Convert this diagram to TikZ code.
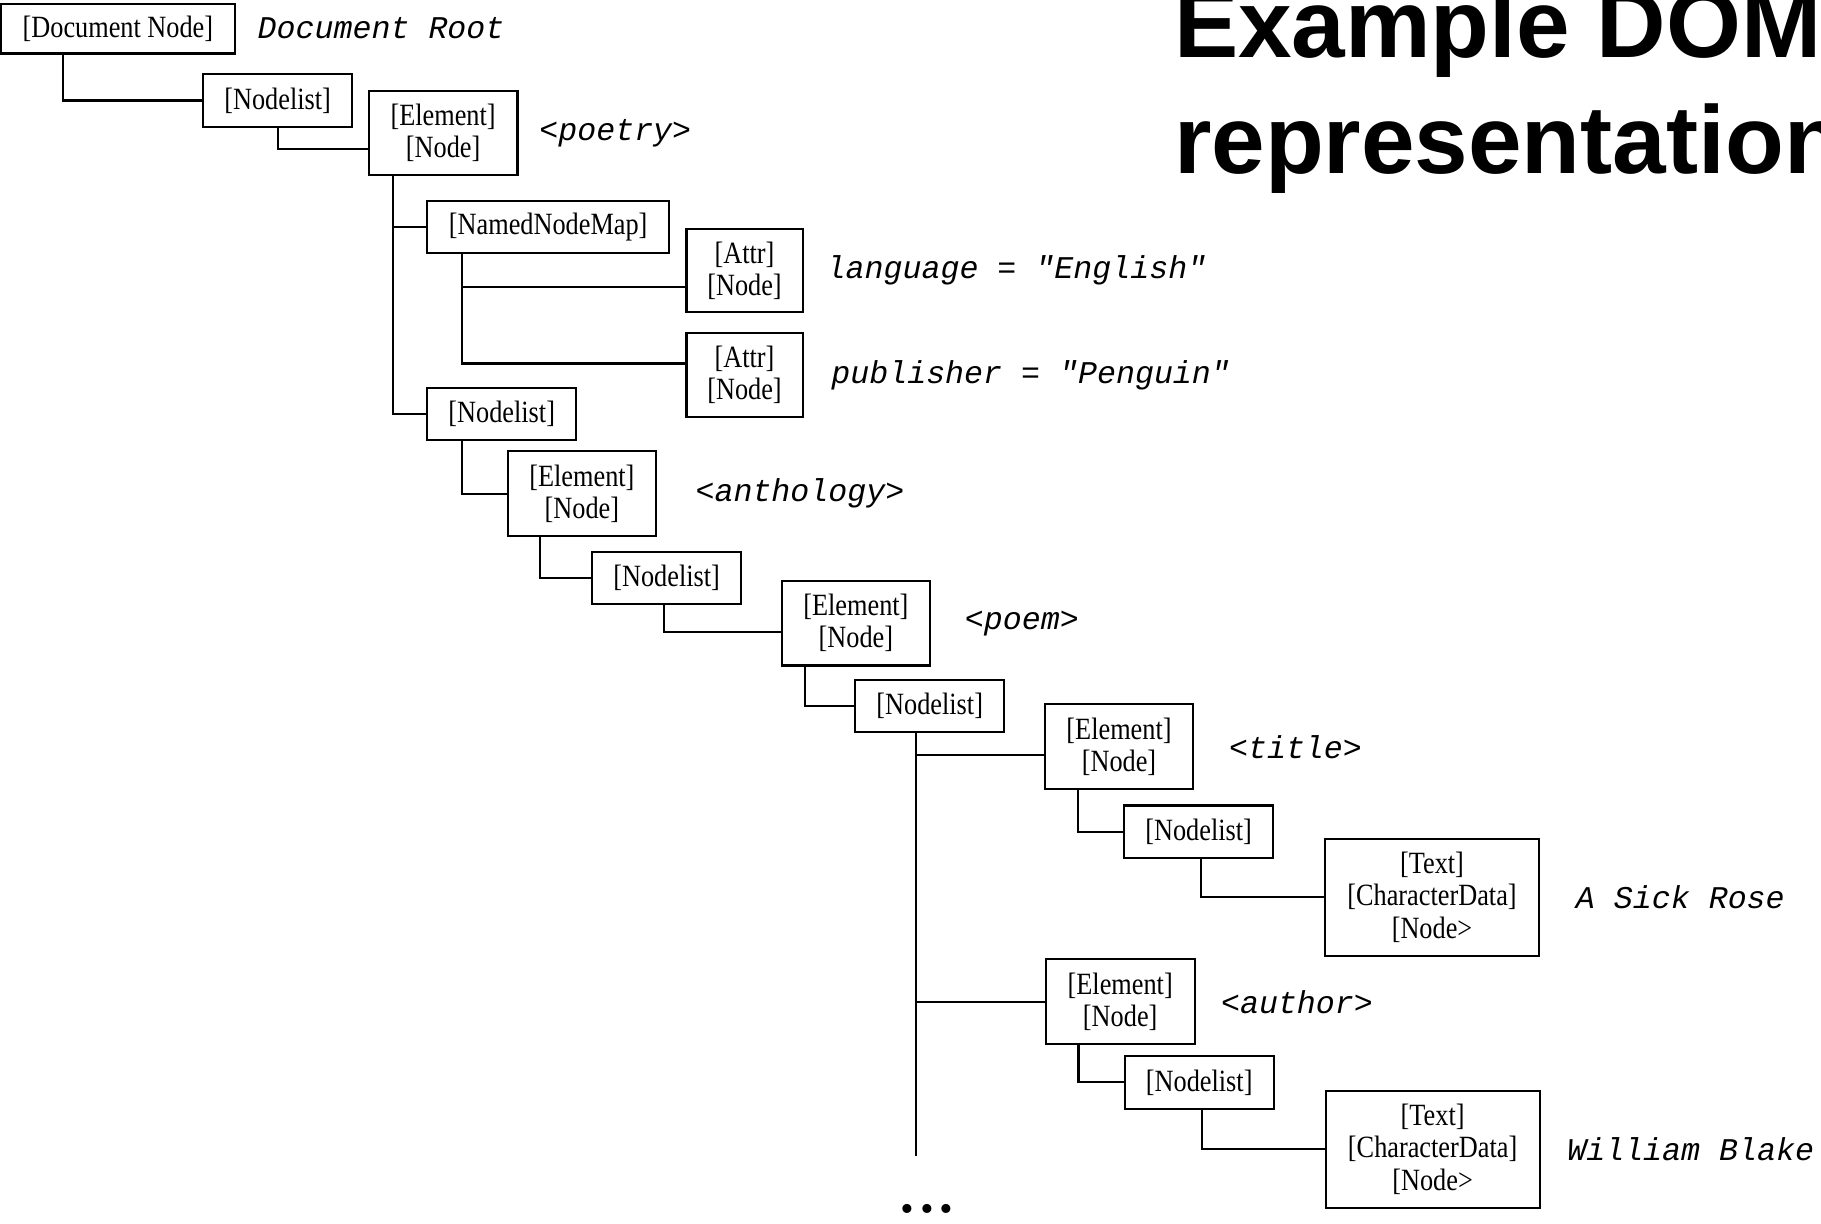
\documentclass[tikz,border=0pt]{standalone}
\usepackage{fontspec}
\setmainfont{Liberation Serif}
\newfontfamily\boxfont[FakeStretch=0.85]{Liberation Serif}
\newfontfamily\tagfont{Liberation Mono}
\newfontfamily\headfont{Liberation Sans}
\newfontfamily\dotfont{Latin Modern Roman}
\usetikzlibrary{positioning}

\begin{document}
\begin{tikzpicture}[line width=0.6pt,
  box/.style={draw,inner sep=0pt,align=center,minimum width=1.487cm,minimum height=0.523cm,
    font=\boxfont\fontsize{8.8}{9.2}\selectfont},
  elem/.style={box,minimum height=0.848cm},
  attr/.style={box,minimum width=1.161cm,minimum height=0.836cm},
  txt/.style={box,minimum width=2.14cm,minimum height=1.173cm},
  tag/.style={inner sep=0pt,font=\tagfont\itshape\fontsize{9}{11}\selectfont},
  wire/.style={draw}]
\useasboundingbox (0,0) rectangle (18.21,-12.23);
\node[box,minimum width=2.334cm,minimum height=0.499cm] (docnode) at (1.179,-0.285) {[Document Node]};
\node[box] (list1) at (2.776,-1.005) {[Nodelist]};
\node[elem] (poetry) at (4.431,-1.330) {[Element]\\{}[Node]};
\node[box,minimum width=2.416cm] (nnmap) at (5.482,-2.271) {[NamedNodeMap]};
\node[attr] (attr1) at (7.445,-2.706) {[Attr]\\{}[Node]};
\node[attr] (attr2) at (7.445,-3.751) {[Attr]\\{}[Node]};
\node[box] (list2) at (5.017,-4.141) {[Nodelist]};
\node[elem] (anthology) at (5.819,-4.936) {[Element]\\{}[Node]};
\node[box] (list3) at (6.666,-5.778) {[Nodelist]};
\node[elem] (poem) at (8.559,-6.231) {[Element]\\{}[Node]};
\node[box] (list4) at (9.297,-7.061) {[Nodelist]};
\node[elem] (title) at (11.190,-7.468) {[Element]\\{}[Node]};
\node[box] (list5) at (11.986,-8.316) {[Nodelist]};
\node[txt] (text1) at (14.320,-8.972) {[Text]\\{}[CharacterData]\\{}[Node>};
\node[elem] (author) at (11.202,-10.017) {[Element]\\{}[Node]};
\node[box] (list6) at (11.992,-10.824) {[Nodelist]};
\node[txt] (text2) at (14.326,-11.492) {[Text]\\{}[CharacterData]\\{}[Node>};

\node[tag,right=0.21cm of docnode] (rootlbl) {Document Root};
\node[tag,right=0.198cm of poetry] (poetrylbl) {<poetry>};
\node[tag,right=0.22cm of attr1] (langlbl) {language = "English"};
\node[tag,right=0.267cm of attr2] (publbl) {publisher = "Penguin"};
\node[tag,right=0.372cm of anthology] (anthlbl) {<anthology>};
\node[tag,right=0.325cm of poem] (poemlbl) {<poem>};
\node[tag,right=0.336cm of title] (titlelbl) {<title>};
\node[tag,right=0.348cm of text1] (roselbl) {A Sick Rose};
\node[tag,right=0.244cm of author] (authorlbl) {<author>};
\node[tag,right=0.256cm of text2] (blakelbl) {William Blake};

\node[anchor=base west,align=left,inner sep=0pt,
  font=\headfont\bfseries\fontsize{27.4}{33}\selectfont] (heading) at (11.73,-1.73) {Example DOM\\representation};
\node[anchor=base,inner sep=0pt,font=\dotfont\bfseries\fontsize{18}{22}\selectfont] (more) at (9.27,-12.13) {...};

\draw[wire] ([xshift=0.627cm]docnode.south west) |- (list1.west);
\draw[wire] ([xshift=0.755cm]list1.south west) |- ([yshift=-0.157cm]poetry.west);
\draw[wire] ([xshift=0.256cm]poetry.south west) |- (list2.west);
\draw[wire] ([xshift=0.256cm]poetry.south west) |- (nnmap.west);
\draw[wire] ([xshift=0.36cm]nnmap.south west) |- ([yshift=0.116cm]attr2.west);
\draw[wire] ([xshift=0.36cm]nnmap.south west) |- ([yshift=-0.163cm]attr1.west);
\draw[wire] ([xshift=0.36cm]list2.south west) |- (anthology.west);
\draw[wire] ([xshift=0.337cm]anthology.south west) |- (list3.west);
\draw[wire] ([xshift=0.732cm]list3.south west) |- ([yshift=-0.087cm]poem.west);
\draw[wire] ([xshift=0.244cm]poem.south west) |- (list4.west);
\coordinate (trunkend) at (9.163,-11.556);
\draw[wire] (list4.south -| trunkend) -- (trunkend);
\draw[wire] ([yshift=-0.08cm]title.west) -- ([yshift=-0.08cm]title.west -| trunkend);
\draw[wire] (author.west) -- (author.west -| trunkend);
\draw[wire] ([xshift=0.348cm]title.south west) |- (list5.west);
\draw[wire] ([xshift=0.778cm]list5.south west) |- (text1.west);
\draw[wire] ([xshift=0.337cm]author.south west) |- (list6.west);
\draw[wire] ([xshift=0.778cm]list6.south west) |- (text2.west);
\end{tikzpicture}
\end{document}
